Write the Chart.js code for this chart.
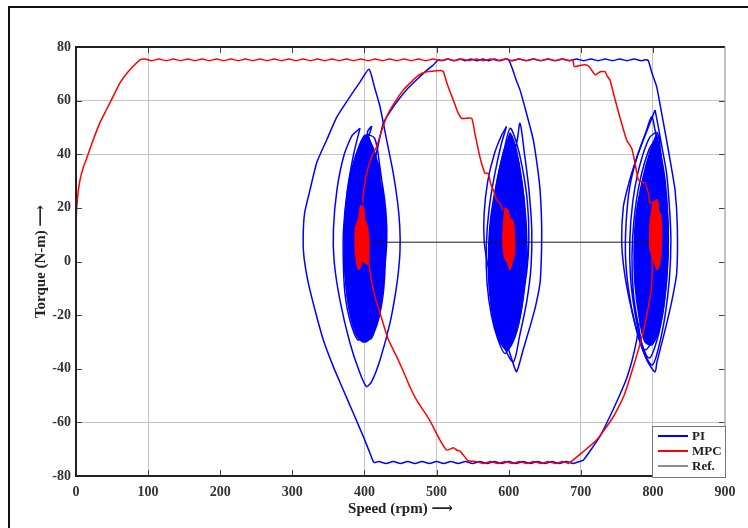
<!DOCTYPE html>
<html><head><meta charset="utf-8">
<script src="https://cdn.jsdelivr.net/npm/chart.js@4/dist/chart.umd.min.js"></script>
<style>
html,body{margin:0;padding:0;background:#fff;overflow:hidden}
#wrap{position:relative;width:748px;height:528px}
#frame{position:absolute;left:8px;top:6px;width:800px;height:600px;border:2px solid #111;box-sizing:border-box}
canvas{position:absolute;left:0;top:0}
</style></head><body>
<div id="wrap"><div id="frame"></div><canvas id="c" width="748" height="528"></canvas></div>
<script>
// ---- tick labels / legend ----
const xTickLabels = ['0','100','200','300','400','500','600','700','800','900'];
const yTickLabels = ['-80','-60','-40','-20','0','20','40','60','80'];
const xGridAt = [100,400,500,700,800];
const yGridAt = [60,40,-60];
const legendLabels = ['PI','MPC','Ref.'];

// ---- PI (blue) trajectory, [speed rpm, torque N-m] ----
const piDown800 = [[781,-23],[777,-30],[771,-37],[763,-44],[752,-51],[740,-58],[727,-65],[712,-71],[703.5,-74.1],[698,-74.6]];
const piBottomFlat = [[690,-75.3],[680,-74.6],[670,-75.3],[660,-74.6],[650,-75.3],[640,-74.6],[630,-75.3],[620,-74.6],[610,-75.3],[600,-74.6],[590,-75.3],[580,-74.6],[570,-75.3],[560,-74.6],[550,-75.3],[540,-74.6],[530,-75.3],[520,-74.6],[510,-75.3],[500,-74.6],[490,-75.3],[480,-74.6],[470,-75.3],[460,-74.6],[450,-75.3],[440,-74.6],[430,-75.3],[420,-74.6],[414,-75]];
const piSwing400 = [[412.3,-74.7],[407.7,-71.5],[398.4,-65.3],[384.6,-56.6],[370.7,-47.9],[356.8,-39.2],[343,-29.3],[331.4,-18.1],[322.2,-8.1],[316,2],[315,9],[317,18],[324.5,26.7],[334,37],[347.6,45.3],[362,54],[380,61.5],[394,67],[406.3,71.7],[414,65],[421.6,57.7],[431,45],[440,32.9],[446,22],[449,13],[449.3,4],[447,-4],[443,-12],[435.4,-23],[421.6,-36.7],[410,-44.8],[403,-46.7],[393.8,-41.7],[380,-30.5],[366,-14.4],[358,0],[357,12],[362,27],[372,40],[383,47],[393.8,49.7]];
const pi400Loops = [[393.8,49.7],[385,40],[376,26],[371,12],[370.7,0],[373,-12],[380,-22],[391.5,-29.3],[405,-24],[420,-14],[429,0],[431,12],[426,27],[414,41],[404,48],[410,50.3],[400,42],[389,30],[381,16],[377,0],[381,-16],[392,-26],[403,-29.9],[414,-22],[424,-10],[429,4],[428,20],[421,36],[414,46],[402,47],[392,38],[381,22],[375,6],[375,-10],[383,-22],[396,-28],[410,-28.6],[420,-18],[427,-4],[428,10],[424,26],[412,42],[406,45]];
const pi400Core = [[405,47],[413,40],[422,28],[428,15],[429,2],[426,-12],[418,-23],[407,-29],[398,-30],[388,-27],[379,-18],[373,-5],[372,8],[374,20],[381,33],[391,42],[400,47],[405,47]];
const piRise400to600 = [[410,33],[418,42],[426,51.5],[437,56.5],[449,61],[460,64.5],[472,67.7],[485,71],[495.5,73.3],[502.4,75.2]];
const piTopFlat1 = [[508,74.9],[516,75.5],[524,74.9],[532,75.5],[540,74.9],[548,75.5],[556,74.9],[564,75.5],[572,74.9],[580,75.5],[588,74.9],[596,75.5]];
const piDrop600 = [[600,75.2],[605,72],[610,68],[615.7,64],[625,55],[634.2,45.3],[640,35],[643.5,26.7],[645.5,16],[645.8,8],[645,-1],[643.5,-8.1],[637,-17],[629.6,-24.3],[620,-33],[611,-41.1],[605,-37],[597,-30],[588,-20],[578,-9],[570,0],[566,8],[566,18],[571,30],[580,40],[590,47],[597,50.3]];
const pi600Loops = [[597,50.3],[590,44],[581,33],[573,20],[569,6],[570,-8],[576,-20],[585,-29],[595,-34.3],[606,-28],[617,-17],[625,-4],[628,8],[626,22],[619,35],[610,45],[602,49.7],[594,42],[584,30],[577,16],[574,2],[576,-12],[583,-23],[594,-32],[606.5,-37.4],[615,-28],[625,-15],[631,-2],[632,12],[628,27],[622,40],[615.7,51.5],[611,44],[600,36],[590,24],[583,10],[581,-4],[585,-17],[593,-27],[601,-31],[612,-25],[620,-14],[625,0],[624,15],[618,30],[610,42],[604,47]];
const pi600Core = [[602,48],[593,41],[583,29],[575,16],[572,3],[573,-10],[579,-22],[588,-30],[598,-33],[609,-28],[618,-17],[623,-3],[624,10],[621,24],[614,37],[607,45],[602,48]];
const piTopFlat2 = [[600,75.2],[604,74.9],[614,75.5],[624,74.9],[634,75.5],[644,74.9],[654,75.5],[664,74.9],[674,75.5],[684,74.9],[694,75.5],[704,74.9],[714,75.5],[724,74.9],[734,75.5],[744,74.9],[754,75.5],[764,74.9],[774,75.5],[784,74.9],[790,75.2]];
const piDrop800 = [[793.6,74.9],[799,70],[805.2,65.2],[812,55.5],[819,45.3],[825,36],[830.7,26.7],[833.9,13],[833,-4.4],[826.5,-14.4],[817,-25.5],[805.7,-37.4],[803,-41.2],[792,-37],[780,-28],[768,-15],[760,-3],[756.7,8],[759,20.4],[764.5,27],[770.6,32.9],[778,39],[786.7,45.3],[795,51],[803,56.5]];
const pi800Loops = [[803,56.5],[807.5,50.3],[813,42],[819,32.9],[823,20],[825,8],[823,-6],[817,-20],[808,-32],[799,-38.6],[786,-33],[774,-22],[766,-10],[762,2],[763,15],[768,28],[778,39],[790,48],[798.3,54],[803,49],[810,40],[817,27],[821,12],[820,-3],[815,-17],[806,-29],[795,-36],[784,-30],[775,-19],[769,-6],[768,8],[772,22],[781,35],[795,46],[806,48],[811,40],[817,28],[820,15],[820,0],[815,-15],[806,-26],[789,-33],[780,-24],[773,-12],[771,2],[774,16],[782,30],[795,42],[805,46]];
const pi800Core = [[805,47.5],[811,40],[817,30],[821,15],[821,2],[817,-12],[810,-24],[799,-31],[789,-30],[781,-21],[775,-8],[774,5],[777,18],[786,31],[796,41],[805,47.5]];

// ---- MPC (red) trajectory ----
const mpcRise0 = [[0,14],[1,20],[3,26],[6,31],[10,35],[14,37.9],[22,44],[33,51.7],[42,56.5],[51,61.3],[61,66.6],[70,70],[80,73],[88.8,75.2]];
const mpcTopFlat = [[95,75.5],[105,74.9],[115,75.5],[125,74.9],[135,75.5],[145,74.9],[155,75.5],[165,74.9],[175,75.5],[185,74.9],[195,75.5],[205,74.9],[215,75.5],[225,74.9],[235,75.5],[245,74.9],[255,75.5],[265,74.9],[275,75.5],[285,74.9],[295,75.5],[305,74.9],[315,75.5],[325,74.9],[335,75.5],[345,74.9],[355,75.5],[365,74.9],[375,75.5],[385,74.9],[395,75.5],[405,74.9],[415,75.5],[425,74.9],[435,75.5],[445,74.9],[455,75.5],[465,74.9],[475,75.5],[485,74.9],[495,75.5],[505,74.9],[515,75.5],[525,74.9],[535,75.5],[545,74.9],[555,75.5],[565,74.9],[575,75.5],[585,74.9],[595,75.5],[605,74.9],[615,75.5],[625,74.9],[635,75.5],[645,74.9],[655,75.5],[665,74.9],[675,75.5],[685,74.9]];
const mpcSteps800 = [[689,75.2],[691,72.7],[700,73.2],[708,73.3],[712,72.5],[716,71],[720,69.6],[727,70.8],[733.6,70.8],[737,69],[740.5,67.7],[746,62],[754,54],[763.6,45.3],[770.6,42.2],[775,37],[779.8,30.4],[785,29.6],[789,29.3],[793.7,25.5],[796,21.8],[800,22]];
const mpc800Blob = [[800,22],[806,23],[808,19],[811,17],[812,10],[811,3],[809,-1],[806,-3],[803,-1],[799,2],[796,5],[796,14],[798,18],[800,22]];
const mpcDown800 = [[799,2],[799,-4],[798,-10],[793,-18],[785,-28],[772,-40],[760,-50],[745,-58],[722,-66.6],[703,-71],[683,-75.3]];
const mpcBottomFlat = [[675,-74.6],[665,-75.3],[655,-74.6],[645,-75.3],[635,-74.6],[625,-75.3],[615,-74.6],[605,-75.3],[595,-74.6],[585,-75.3],[575,-74.6],[565,-75.3],[555,-74.6]];
const mpcRiseTo400 = [[543.6,-74.3],[538,-72.5],[532.5,-70.7],[527.9,-70.3],[524,-69.5],[521,-69.7],[514,-70.3],[504.8,-66.6],[490,-59],[472.4,-51.7],[463,-46.7],[454,-41],[444.7,-35.5],[433,-29],[421.6,-19.3],[414.6,-13.1],[409,-6],[405.4,0.5]];
const mpc400Blob = [[395,21],[399,20],[400,16],[404,13],[406,8],[406,2],[404,-1],[397,0],[392,-3],[389,0],[387,6],[388,13],[392,16],[394,20],[395,21]];
const mpcRise400 = [[398,22],[398,24],[401,30],[405.3,35.3],[410,39],[414.6,41.6],[417,42.8],[423,48],[430.8,54],[440,58.5],[453.9,64],[465,67],[475,69.5],[486.2,70.8],[495,71],[504.8,71.2],[509.4,70.8],[515,66],[523.2,60.2],[529,56],[534.8,53.4],[548.7,53.4],[553,48],[557.9,41.6],[562,37],[567.2,32.9],[571.8,32.9],[575,29],[578.7,26.7],[583.4,22.9],[588,21.7],[592,19]];
const mpc600Blob = [[595,20],[599,19],[602,16],[606,15],[608,10],[608,3],[605,0],[602,-3],[599,-1],[594,2],[592,8],[593,14],[595,20]];

// ---- Reference ----
const refLine = [[400,7.2],[800,7.2]];

// ---- styling ----
const PI_COLOR = '#0000ff', MPC_COLOR = '#ff0000', REF_COLOR = '#1a1a1a';
const serif = '"Liberation Serif","Times New Roman",serif';
const titleFont = '"Liberation Serif","DejaVu Serif",serif';
const xy = a => a.map(p => ({x: p[0], y: p[1]}));

function path(label, arr, color, order, w, tension) {
  return {label, data: xy(arr), showLine: true, borderColor: color, borderWidth: w,
    pointRadius: 0, pointHoverRadius: 0, tension: tension, fill: false, order};
}
function blob(label, arr, color, order) {
  return {label, data: xy(arr), showLine: true, borderColor: color, backgroundColor: color,
    borderWidth: 1.5, pointRadius: 0, pointHoverRadius: 0, tension: 0.3, fill: 'shape', order};
}

const datasets = [
  path('PI', [...piDown800, ...piBottomFlat, ...piSwing400], PI_COLOR, 3, 1.5, 0.2),
  path('PI', pi400Loops, PI_COLOR, 3, 1.5, 0.3),
  blob('PI', pi400Core, PI_COLOR, 3),
  path('PI', [...piRise400to600, ...piTopFlat1, ...piDrop600], PI_COLOR, 3, 1.5, 0.2),
  path('PI', pi600Loops, PI_COLOR, 3, 1.5, 0.3),
  blob('PI', pi600Core, PI_COLOR, 3),
  path('PI', [...piTopFlat2, ...piDrop800], PI_COLOR, 3, 1.5, 0.2),
  path('PI', pi800Loops, PI_COLOR, 3, 1.5, 0.3),
  blob('PI', pi800Core, PI_COLOR, 3),
  path('Ref.', refLine, REF_COLOR, 2, 1, 0),
  path('MPC', [...mpcRise0, ...mpcTopFlat, ...mpcSteps800], MPC_COLOR, 1, 1.5, 0.15),
  blob('MPC', mpc800Blob, MPC_COLOR, 1),
  path('MPC', [...mpcDown800, ...mpcBottomFlat, ...mpcRiseTo400], MPC_COLOR, 1, 1.5, 0.15),
  blob('MPC', mpc400Blob, MPC_COLOR, 1),
  path('MPC', mpcRise400, MPC_COLOR, 1, 1.5, 0.15),
  blob('MPC', mpc600Blob, MPC_COLOR, 1)
];

const framePlugin = {
  id: 'frameTicksLegend',
  afterDraw(chart) {
    const {ctx, chartArea: a, scales: {x, y}} = chart;
    ctx.save();
    ctx.strokeStyle = '#444'; ctx.lineWidth = 1;
    ctx.beginPath();
    x.ticks.forEach(t => {
      if (t.value <= 0 || t.value >= 900) return;
      const px = Math.round(x.getPixelForValue(t.value)) + 0.5;
      ctx.moveTo(px, a.bottom); ctx.lineTo(px, a.bottom - 6);
      ctx.moveTo(px, a.top); ctx.lineTo(px, a.top + 6);
    });
    y.ticks.forEach(t => {
      if (t.value <= -80 || t.value >= 80) return;
      const py = Math.round(y.getPixelForValue(t.value)) + 0.5;
      ctx.moveTo(a.left, py); ctx.lineTo(a.left + 6, py);
      ctx.moveTo(a.right, py); ctx.lineTo(a.right - 6, py);
    });
    ctx.stroke();
    ctx.lineWidth = 2; ctx.strokeStyle = '#222';
    ctx.beginPath();
    ctx.moveTo(a.right, a.top); ctx.lineTo(a.left, a.top); ctx.lineTo(a.left, a.bottom); ctx.lineTo(a.right, a.bottom);
    ctx.stroke();
    ctx.lineWidth = 1.2; ctx.strokeStyle = '#999';
    ctx.beginPath(); ctx.moveTo(a.right, a.top); ctx.lineTo(a.right, a.bottom); ctx.stroke();
    const bx = 652, by = 426, bw = a.right - 652, bh = a.bottom + 1 - 426;
    ctx.fillStyle = '#fff'; ctx.fillRect(bx, by, bw, bh);
    ctx.strokeStyle = '#777'; ctx.lineWidth = 1;
    ctx.strokeRect(bx + 0.5, by + 0.5, bw, bh);
    const colors = [PI_COLOR, MPC_COLOR, REF_COLOR];
    const widths = [2, 2, 1];
    const rows = [436, 451, 466];
    ctx.font = 'bold 13px ' + serif; ctx.textBaseline = 'middle'; ctx.textAlign = 'left';
    legendLabels.forEach((lab, i) => {
      ctx.strokeStyle = colors[i]; ctx.lineWidth = widths[i];
      ctx.beginPath(); ctx.moveTo(658, rows[i]); ctx.lineTo(688, rows[i]); ctx.stroke();
      ctx.fillStyle = '#222'; ctx.fillText(lab, 692, rows[i] + 0.5);
    });
    ctx.restore();
  }
};

new Chart(document.getElementById('c'), {
  type: 'scatter',
  data: {datasets},
  options: {
    responsive: false, animation: false, devicePixelRatio: 1, events: [],
    layout: {padding: {left: 0, right: 23, top: 47, bottom: 0}},
    plugins: {legend: {display: false}, tooltip: {enabled: false}},
    scales: {
      x: {
        type: 'linear', min: 0, max: 900,
        afterFit: s => { s.height = 52; },
        ticks: {stepSize: 100, padding: 8, color: '#333', font: {family: serif, size: 14, weight: 'bold'},
          callback: (v, i) => xTickLabels[i]},
        grid: {drawTicks: false, lineWidth: 1,
          color: c => (c.tick && xGridAt.includes(c.tick.value)) ? '#c4c4c4' : 'rgba(0,0,0,0)'},
        border: {display: false},
        title: {display: true, text: 'Speed (rpm) \u27F6', color: '#222',
          font: {family: titleFont, size: 15, weight: 'bold'}, padding: {top: 0, bottom: 10}}
      },
      y: {
        type: 'linear', min: -80, max: 80,
        afterFit: s => { s.width = 76; },
        ticks: {stepSize: 20, padding: 5, color: '#333', font: {family: serif, size: 14, weight: 'bold'},
          callback: (v, i) => yTickLabels[i]},
        grid: {drawTicks: false, lineWidth: 1,
          color: c => (c.tick && yGridAt.includes(c.tick.value)) ? '#c4c4c4' : 'rgba(0,0,0,0)'},
        border: {display: false},
        title: {display: true, text: 'Torque (N-m) \u27F6', color: '#222',
          font: {family: titleFont, size: 15, weight: 'bold'}, padding: {top: 32, bottom: 0}}
      }
    }
  },
  plugins: [framePlugin]
});
</script>
</body></html>
